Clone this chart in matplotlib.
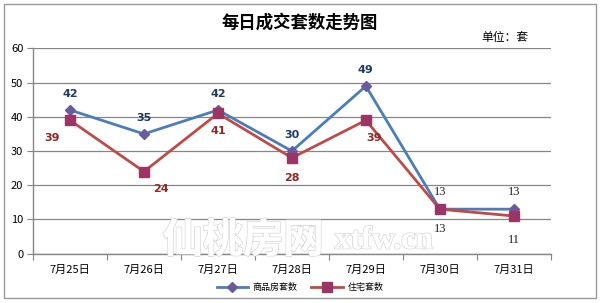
import matplotlib.pyplot as plt
import matplotlib.patheffects as pe
import numpy as np
from matplotlib.patches import Rectangle

plt.rcParams['font.family'] = ['Noto Sans CJK SC', 'DejaVu Sans']

dates = ['7月25日', '7月26日', '7月27日', '7月28日', '7月29日', '7月30日', '7月31日']
commercial = [42, 35, 42, 30, 49, 13, 13]
residential = [39, 24, 41, 28, 39, 13, 11]

fig = plt.figure(figsize=(6, 3.03), dpi=100)
fig.patch.set_facecolor('white')
# chart border
fig.patches.append(Rectangle((0.006, 0.015), 0.988, 0.972, transform=fig.transFigure,
                             fill=False, edgecolor='#9a9a9a', linewidth=1.0))

ax = fig.add_axes([0.055, 0.163, 0.863, 0.677])
x = np.arange(len(dates))

# watermark (outlined text)
wm = fig.text(0.405, 0.205, '仙桃房网', fontsize=29, color='white', ha='center', va='center',
              fontweight='bold', zorder=1)
wm.set_path_effects([pe.withStroke(linewidth=1.2, foreground='#d5d5d5'), pe.Normal()])
wm2 = fig.text(0.64, 0.205, 'xtfw.cn', fontsize=23, color='white', ha='center', va='center',
               family='Liberation Serif', fontweight='bold', zorder=1)
wm2.set_path_effects([pe.withStroke(linewidth=1.2, foreground='#d5d5d5'), pe.Normal()])

ax.patch.set_alpha(0)
ax.plot(x, commercial, color='#4a7ebb', linewidth=2.0, marker='D', markersize=5,
        markerfacecolor='#6a5a9e', markeredgecolor='#6a5a9e', label='商品房套数', zorder=3)
ax.plot(x, residential, color='#be4b48', linewidth=2.0, marker='s', markersize=7,
        markerfacecolor='#9a3565', markeredgecolor='#9a3565', label='住宅套数', zorder=3)

ax.set_xlim(-0.5, len(dates) - 0.5)
ax.set_ylim(0, 60)
ax.set_yticks(range(0, 61, 10))
ax.set_xticks(np.arange(-0.5, len(dates), 1.0))
ax.set_xticklabels([])
ax.set_xticks(x, minor=True)
ax.set_xticklabels(dates, minor=True, fontsize=8)
ax.tick_params(axis='x', which='minor', length=0, pad=8)
ax.tick_params(axis='x', which='major', length=4, color='#868686', direction='out')
ax.tick_params(axis='y', length=4, color='#868686', labelsize=8, pad=3)
ax.grid(axis='y', color='#868686', linewidth=0.9)
ax.set_axisbelow(True)
for s in ['top', 'right']:
    ax.spines[s].set_visible(False)
for s in ['left', 'bottom']:
    ax.spines[s].set_color('#868686')
    ax.spines[s].set_linewidth(1.0)

# labels for commercial series (above)
for i, v in enumerate(commercial):
    if i < 5:
        ax.annotate(str(v), (i, v), xytext=(0, 8), textcoords='offset points', ha='center',
                    va='bottom', fontsize=8, color='#1f3a60', fontweight='bold',
                    family='DejaVu Sans')
    else:
        ax.annotate(str(v), (i, v), xytext=(0, 8), textcoords='offset points', ha='center',
                    va='bottom', fontsize=9, color='#222222', family='Liberation Serif')

# labels for residential series
offsets = [(-13, -9), (12, -9), (0, -9), (0, -11), (6, -9), (0, -10), (0, -13)]
for i, v in enumerate(residential):
    dx, dy = offsets[i]
    if i < 5:
        ax.annotate(str(v), (i, v), xytext=(dx, dy), textcoords='offset points', ha='center',
                    va='top', fontsize=8, color='#8c2a26', fontweight='bold',
                    family='DejaVu Sans')
    else:
        ax.annotate(str(v), (i, v), xytext=(dx, dy), textcoords='offset points', ha='center',
                    va='top', fontsize=9, color='#222222', family='Liberation Serif')

fig.text(0.5, 0.925, '每日成交套数走势图', ha='center', va='center', fontsize=12.5,
         fontweight='bold')
fig.text(0.842, 0.875, '单位：套', ha='center', va='center', fontsize=8.5)

fig.legend(loc='center', bbox_to_anchor=(0.5, 0.05), ncol=2, frameon=False,
           fontsize=6.5, handlelength=3.5, columnspacing=1.5, handletextpad=0.5)

fig.savefig('out.png', dpi=100)
